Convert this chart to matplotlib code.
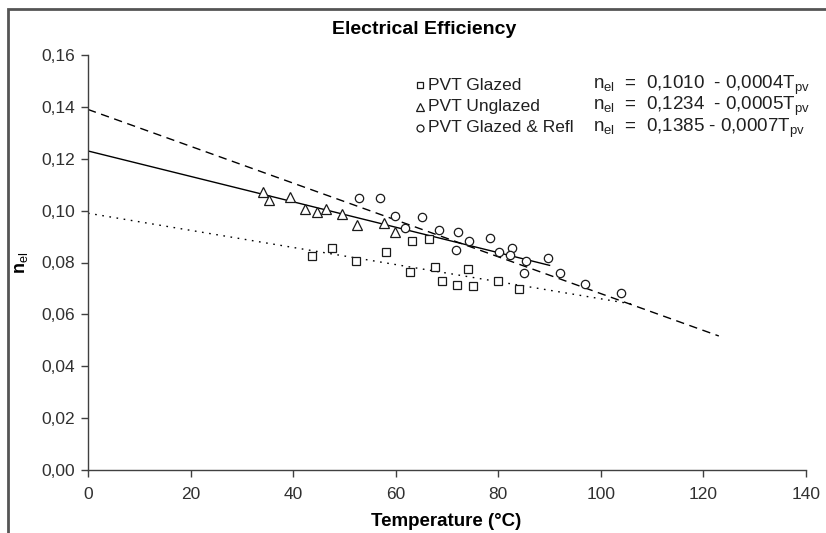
import numpy as np
import matplotlib
matplotlib.use("Agg")
import matplotlib.pyplot as plt
from matplotlib.patches import Rectangle

plt.rcParams['font.family'] = ['Liberation Sans', 'DejaVu Sans']
plt.rcParams['mathtext.fontset'] = 'custom'
plt.rcParams['mathtext.rm'] = 'Liberation Sans'
plt.rcParams['mathtext.it'] = 'Liberation Sans'

glazed_x = [43.6, 47.6, 52.3, 58.1, 62.8, 63.2, 66.4, 67.7, 69.0, 72.0, 74.0, 75.0, 80.0, 84.0]
glazed_y = [0.0825, 0.0855, 0.0806, 0.0842, 0.0765, 0.0884, 0.0889, 0.0784, 0.0730, 0.0712, 0.0775, 0.0710, 0.0730, 0.0698]

unglazed_x = [34.1, 35.2, 39.4, 42.3, 44.7, 46.5, 49.5, 52.5, 57.7, 59.9]
unglazed_y = [0.1073, 0.1041, 0.1054, 0.1005, 0.0996, 0.1005, 0.0987, 0.0944, 0.0953, 0.0919]

refl_x = [52.8, 56.9, 59.9, 61.9, 65.2, 68.4, 72.1, 74.3, 71.7, 78.4, 80.1, 82.6, 82.3, 85.5, 89.6, 85.0, 92.0, 97.0, 103.9]
refl_y = [0.1047, 0.1047, 0.0979, 0.0932, 0.0977, 0.0925, 0.0919, 0.0884, 0.0848, 0.0896, 0.0842, 0.0855, 0.0829, 0.0806, 0.0816, 0.0760, 0.0760, 0.0718, 0.0684]

# trend lines: intercept, slope, end of line
glazed_fit = [0.0990, -0.00033, 106.0]
unglazed_fit = [0.1230, -0.00049, 90.0]
refl_fit = [0.1390, -0.00071, 123.0]

labels = ['PVT Glazed', 'PVT Unglazed', 'PVT Glazed & Refl']
equations = [r'n$_{\rm el}$  =  0,1010  - 0,0004T$_{\rm pv}$',
             r'n$_{\rm el}$  =  0,1234  - 0,0005T$_{\rm pv}$',
             r'n$_{\rm el}$  =  0,1385 - 0,0007T$_{\rm pv}$']

W, H = 826, 533
fig = plt.figure(figsize=(W / 100, H / 100), dpi=100)
ax = fig.add_axes([88 / W, 1 - 470 / H, (806 - 88) / W, (470 - 55) / H])

ec = '#1a1a1a'
mk = dict(linestyle='none', markerfacecolor='white', markeredgecolor=ec, markeredgewidth=0.9)
ax.plot(glazed_x, glazed_y, marker='s', markersize=6, **mk, zorder=3)
ax.plot(unglazed_x, unglazed_y, marker='^', markersize=7, **mk, zorder=3)
ax.plot(refl_x, refl_y, marker='o', markersize=6, **mk, zorder=3)

for fit, ls in [(glazed_fit, (0, (1.2, 4))), (unglazed_fit, '-'), (refl_fit, (0, (6, 4)))]:
    xs = np.array([0.0, fit[2]])
    ax.plot(xs, fit[0] + fit[1] * xs, color='black', linestyle=ls, linewidth=1.0, zorder=2)

ax.set_xlim(0, 140)
ax.set_ylim(0, 0.16)
ax.set_xticks(np.arange(0, 141, 20))
ax.set_yticks(np.arange(0, 0.161, 0.02))
ax.set_yticklabels([f'{v:.2f}'.replace('.', ',') for v in np.arange(0, 0.161, 0.02)])
ax.tick_params(direction='out', length=5, width=1, color='#404040', labelsize=12.5, colors='#303030')
ax.tick_params(axis='x', pad=7)
ax.tick_params(axis='y', pad=4)
for s in ['top', 'right']:
    ax.spines[s].set_visible(False)
for s in ['left', 'bottom']:
    ax.spines[s].set_color('#404040')
    ax.spines[s].set_linewidth(1)

fig.text(446 / W, 1 - 521 / H, 'Temperature (°C)', fontsize=13.5, fontweight='bold',
         ha='center', va='center')
fig.text(21 / W, 1 - 263 / H, r'n$_{\rm el}$', rotation=90, fontsize=13, fontweight='bold',
         ha='center', va='center')
fig.text(424 / W, 1 - 29 / H, 'Electrical Efficiency', fontsize=14, fontweight='bold',
         ha='center', va='center')

# legend with equations
markers = ['s', '^', 'o']
sizes = [5, 6, 5]
rows = [85, 106.5, 128]
for m, sz, lab, eq, r in zip(markers, sizes, labels, equations, rows):
    fig.lines.append(plt.Line2D([420 / W], [1 - r / H], marker=m, markersize=sz, linestyle='none',
                                markerfacecolor='white', markeredgecolor=ec, markeredgewidth=0.9,
                                transform=fig.transFigure))
    fig.text(428 / W, 1 - r / H, lab, fontsize=12.5, ha='left', va='center', color='#202020')
    fig.text(593 / W, 1 - r / H, eq, fontsize=13.5, ha='left', va='center', color='#202020')

fig.patches.append(Rectangle((8 / W, -0.1), 1.2, 1.1 - 9 / H, transform=fig.transFigure,
                             fill=False, edgecolor='#555555', linewidth=2))

fig.savefig('out.png', dpi=100)
